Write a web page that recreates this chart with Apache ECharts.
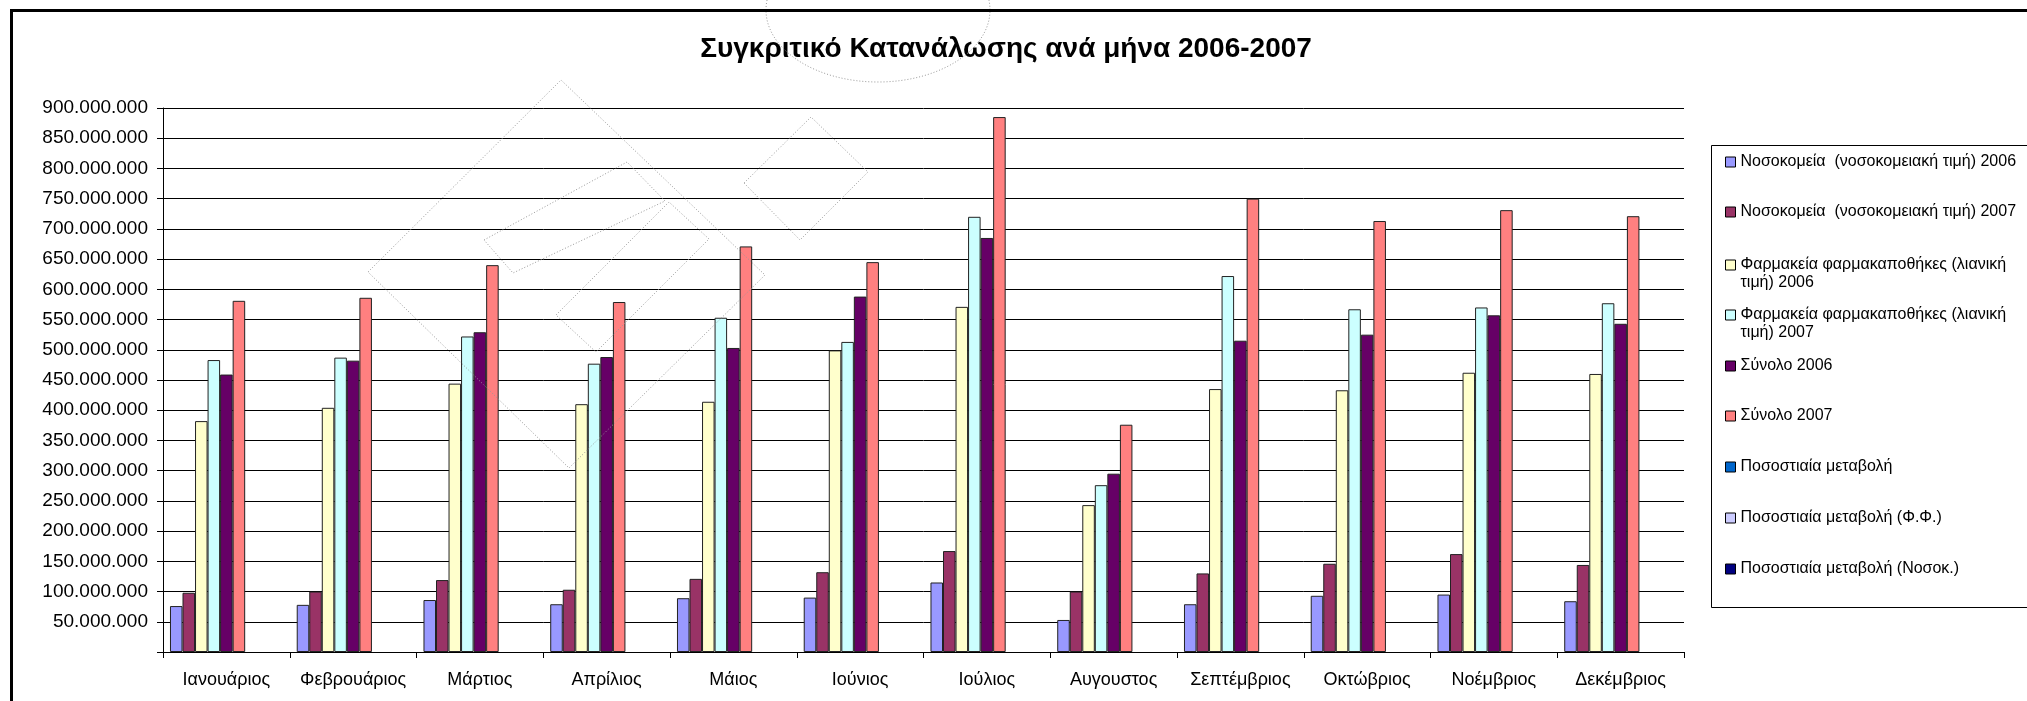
<!DOCTYPE html>
<html>
<head>
<meta charset="utf-8">
<script src="https://cdn.jsdelivr.net/npm/echarts@6/dist/echarts.min.js"></script>
<style>html,body{margin:0;padding:0;background:#fff}#c{width:2027px;height:701px}</style>
</head>
<body>
<div id="c"></div>
<script>
const titleText = 'Συγκριτικό Κατανάλωσης ανά μήνα 2006-2007';
const categories = ['Ιανουάριος','Φεβρουάριος','Μάρτιος','Απρίλιος','Μάιος','Ιούνιος','Ιούλιος','Αυγουστος','Σεπτέμβριος','Οκτώβριος','Νοέμβριος','Δεκέμβριος'];
const seriesNames = [
  'Νοσοκομεία  (νοσοκομειακή τιμή) 2006',
  'Νοσοκομεία  (νοσοκομειακή τιμή) 2007',
  'Φαρμακεία φαρμακαποθήκες (λιανική τιμή) 2006',
  'Φαρμακεία φαρμακαποθήκες (λιανική τιμή) 2007',
  'Σύνολο 2006',
  'Σύνολο 2007',
  'Ποσοστιαία μεταβολή',
  'Ποσοστιαία μεταβολή (Φ.Φ.)',
  'Ποσοστιαία μεταβολή (Νοσοκ.)'
];
const seriesColors = ['#9999FF','#993366','#FFFFCC','#CCFFFF','#660066','#FF8080','#0066CC','#CCCCFF','#000080'];
const hosp2006 = [76e6, 78e6, 86e6, 79e6, 89e6, 90e6, 115e6, 53e6, 79e6, 93e6, 95e6, 84e6];
const hosp2007 = [98e6, 100e6, 119e6, 103e6, 121e6, 132e6, 167e6, 100e6, 130e6, 146e6, 162e6, 144e6];
const pharm2006 = [382e6, 404e6, 444e6, 410e6, 414e6, 499e6, 571e6, 243e6, 435e6, 433e6, 462e6, 460e6];
const pharm2007 = [483e6, 487e6, 522e6, 477e6, 553e6, 513e6, 720e6, 276e6, 622e6, 567e6, 570e6, 577e6];
const total2006 = [459e6, 482e6, 529e6, 488e6, 503e6, 588e6, 685e6, 295e6, 515e6, 525e6, 557e6, 543e6];
const total2007 = [581e6, 586e6, 640e6, 579e6, 671e6, 645e6, 885e6, 376e6, 750e6, 713e6, 731e6, 721e6];
const pctTotal = [0.27, 0.22, 0.21, 0.19, 0.33, 0.10, 0.29, 0.27, 0.46, 0.36, 0.31, 0.33];
const pctPharm = [0.26, 0.21, 0.18, 0.16, 0.34, 0.03, 0.26, 0.14, 0.43, 0.31, 0.23, 0.25];
const pctHosp = [0.29, 0.28, 0.38, 0.30, 0.36, 0.47, 0.45, 0.89, 0.65, 0.57, 0.71, 0.71];
const yTicks = {min: 0, max: 900e6, interval: 50e6};

const allData = [hosp2006, hosp2007, pharm2006, pharm2007, total2006, total2007, pctTotal, pctPharm, pctHosp];
const legendCenters = [162, 212, 265, 315, 366, 416, 467, 518, 569];

const FONT = 'Liberation Sans, Arial, sans-serif';
function fmt(v) {
  if (v === 0) return '';
  return String(Math.round(v)).replace(/\B(?=(\d{3})+(?!\d))/g, '.');
}

const series = seriesNames.map((n, i) => ({
  name: n,
  type: 'bar',
  data: allData[i],
  barGap: '0%',
  barCategoryGap: '11%',
  itemStyle: {color: seriesColors[i], borderColor: i < 6 ? '#222' : 'transparent', borderWidth: i < 6 ? 1 : 0},
  emphasis: {disabled: true},
  animation: false
}));

const LH = 18;
const legends = seriesNames.map((n, i) => {
  const twoLine = n.indexOf('(λιανική ') >= 0;
  return {
    data: [n],
    orient: 'vertical',
    left: 1725,
    top: legendCenters[i] - (twoLine ? LH * 1.5 : LH / 2),
    itemWidth: 10,
    itemHeight: 10,
    itemGap: 5,
    padding: 0,
    selectedMode: false,
    icon: 'rect',
    itemStyle: {borderColor: '#000', borderWidth: 1},
    formatter: twoLine ? (name) => '\n' + name.replace('(λιανική ', '(λιανική\n') : '{name}',
    textStyle: {fontFamily: FONT, fontSize: 16, color: '#000', lineHeight: LH}
  };
});

// decorative dotted drawing shapes present in the source document
const dotted = {fill: 'none', stroke: '#999', lineWidth: 1, lineDash: [1, 2]};
const decoShapes = [
  [[368, 272], [561, 80], [765, 275], [569, 468]],
  [[484, 240], [627, 162], [665, 201], [513, 273]],
  [[556, 315], [669, 202], [709, 239], [596, 352]],
  [[744, 183], [811, 117], [868, 172], [800, 240]]
];

const chart = echarts.init(document.getElementById('c'), null, {renderer: 'canvas'});
chart.setOption({
  animation: false,
  backgroundColor: '#fff',
  title: {
    text: titleText,
    left: 1001,
    top: 30,
    textAlign: 'center',
    textStyle: {fontFamily: FONT, fontSize: 28, fontWeight: 'bold', color: '#000'}
  },
  legend: legends,
  grid: {left: 163, right: 343, top: 108, bottom: 49, containLabel: false},
  xAxis: {
    type: 'category',
    data: categories,
    axisLine: {lineStyle: {color: '#000', width: 1}},
    axisTick: {show: true, length: 6, lineStyle: {color: '#000'}},
    axisLabel: {fontFamily: FONT, fontSize: 18, color: '#000', margin: 19, interval: 0},
    splitLine: {show: false}
  },
  yAxis: {
    type: 'value',
    min: yTicks.min,
    max: yTicks.max,
    interval: yTicks.interval,
    axisLine: {show: true, lineStyle: {color: '#000', width: 1}},
    axisTick: {show: true, length: 6, lineStyle: {color: '#000'}},
    axisLabel: {fontFamily: FONT, fontSize: 19, color: '#000', margin: 15, formatter: fmt},
    splitLine: {show: true, lineStyle: {color: '#000', width: 1}}
  },
  series: series,
  graphic: [
    {type: 'rect', silent: true, z: 100, shape: {x: 11.5, y: 10.5, width: 2100, height: 800},
     style: {fill: 'none', stroke: '#000', lineWidth: 3}},
    {type: 'rect', silent: true, z: 0, shape: {x: 1711.5, y: 145.5, width: 400, height: 462},
     style: {fill: 'none', stroke: '#000', lineWidth: 1}},
    {type: 'ellipse', silent: true, z: 50, shape: {cx: 878, cy: 10, rx: 112, ry: 72},
     style: dotted}
  ].concat(decoShapes.map(pts => ({
    type: 'polygon', silent: true, z: 50, shape: {points: pts}, style: dotted
  })))
});
</script>
</body>
</html>
